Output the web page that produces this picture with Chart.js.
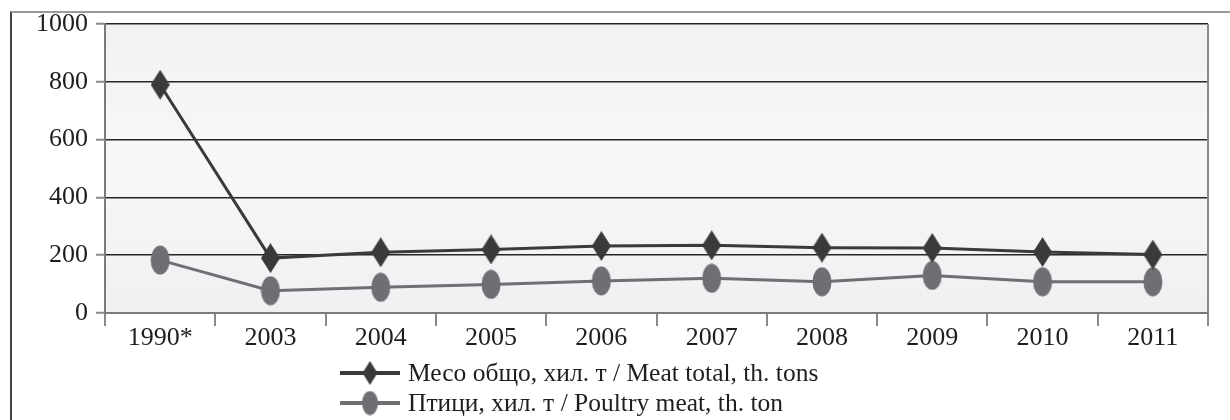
<!DOCTYPE html>
<html lang="bg">
<head>
<meta charset="UTF-8">
<title>Месо</title>
<script src="https://cdn.jsdelivr.net/npm/chart.js"></script>
<style>
  body { margin: 0; background: #fff; }
  .frame { position: absolute; left: 10px; top: 11px; width: 1240px; height: 420px;
           border-left: 2px solid #444; border-top: 2px solid #999; }
  .wrap { position: absolute; left: 0; top: 0; width: 1230px; height: 420px; }
</style>
</head>
<body>
<div class="frame"></div>
<div class="wrap"><canvas id="grafico"></canvas></div>

<script>
// данни
const godini = ['1990*', '2003', '2004', '2005', '2006', '2007', '2008', '2009', '2010', '2011'];
const meso = [790, 190, 210, 220, 232, 234, 226, 225, 211, 202];
const ptici = [183, 77, 89, 99, 111, 120, 108, 130, 108, 108];
const yTicks = [0, 200, 400, 600, 800, 1000];
const imena = ['Месо общо, хил. т / Meat total, th. tons', 'Птици, хил. т / Poultry meat, th. ton'];

const shrift = "'Liberation Serif', 'Times New Roman', serif";
const cvMeso = '#3a3a3a';
const cvPtici = '#6e6f73';

function romb(w, h, color) {
    const c = document.createElement('canvas');
    c.width = w; c.height = h;
    const g = c.getContext('2d');
    g.fillStyle = color;
    g.beginPath();
    g.moveTo(w / 2, 0); g.lineTo(w, h / 2); g.lineTo(w / 2, h); g.lineTo(0, h / 2);
    g.closePath(); g.fill();
    return c;
}
function elipsa(w, h, color) {
    const c = document.createElement('canvas');
    c.width = w; c.height = h;
    const g = c.getContext('2d');
    g.fillStyle = color;
    g.beginPath();
    g.ellipse(w / 2, h / 2, w / 2 - 0.5, h / 2 - 0.5, 0, 0, Math.PI * 2);
    g.fill();
    return c;
}

const markerMeso = romb(19, 30, cvMeso);
const markerPtici = elipsa(20, 30, cvPtici);

// фон с градиент и дясна рамка
const fonPlugin = {
    id: 'fon',
    beforeDraw(chart) {
        const { ctx, chartArea: a } = chart;
        const gr = ctx.createLinearGradient(0, a.top, 0, a.bottom);
        gr.addColorStop(0, '#f0f1f2');
        gr.addColorStop(0.45, '#f8f8f8');
        gr.addColorStop(1, '#eff0f2');
        ctx.save();
        ctx.fillStyle = gr;
        ctx.fillRect(a.left, a.top, a.right - a.left, a.bottom - a.top);
        ctx.restore();
    },
    afterDatasetsDraw(chart) {
        const { ctx, chartArea: a } = chart;
        ctx.save();
        ctx.strokeStyle = '#8a8a8a';
        ctx.lineWidth = 2;
        ctx.beginPath();
        ctx.moveTo(a.right, a.top);
        ctx.lineTo(a.right, a.bottom);
        ctx.stroke();
        ctx.restore();
    }
};

// легенда в два реда
const legendaPlugin = {
    id: 'legenda',
    afterDraw(chart) {
        const ctx = chart.ctx;
        const x0 = 340, redove = [373, 403];
        const markeri = [romb(15, 24, cvMeso), elipsa(17, 25, cvPtici)];
        const cvetove = [cvMeso, cvPtici];
        ctx.save();
        ctx.font = '25.5px ' + shrift;
        ctx.textBaseline = 'middle';
        ctx.fillStyle = '#1e1e1e';
        imena.forEach((ime, i) => {
            const y = redove[i];
            ctx.strokeStyle = cvetove[i];
            ctx.lineWidth = 4;
            ctx.beginPath();
            ctx.moveTo(x0, y);
            ctx.lineTo(x0 + 60, y);
            ctx.stroke();
            const m = markeri[i];
            ctx.drawImage(m, x0 + 30 - m.width / 2, y - m.height / 2);
            ctx.fillText(ime, x0 + 68, y + 1);
        });
        ctx.restore();
    }
};

new Chart(document.getElementById('grafico'), {
    type: 'line',
    data: {
        labels: godini,
        datasets: [{
            label: imena[0],
            data: meso,
            borderColor: cvMeso,
            borderWidth: 3,
            pointStyle: markerMeso,
            pointRadius: 10,
            pointBackgroundColor: cvMeso,
            tension: 0
        }, {
            label: imena[1],
            data: ptici,
            borderColor: cvPtici,
            borderWidth: 3,
            pointStyle: markerPtici,
            pointRadius: 10,
            pointBackgroundColor: cvPtici,
            tension: 0
        }]
    },
    options: {
        responsive: true,
        maintainAspectRatio: false,
        animation: false,
        events: [],
        layout: { padding: { left: 0, right: 22, top: 24, bottom: 60 } },
        plugins: {
            legend: { display: false },
            tooltip: { enabled: false }
        },
        scales: {
            x: {
                offset: true,
                grid: {
                    offset: true,
                    drawOnChartArea: false,
                    drawTicks: true,
                    tickLength: 13,
                    color: '#8a8a8a',
                    lineWidth: 2
                },
                border: { display: true, color: '#7a7a7a', width: 2 },
                ticks: {
                    color: '#1e1e1e',
                    font: { family: shrift, size: 26 },
                    padding: -3,
                    maxRotation: 0,
                    autoSkip: false
                },
                afterFit(scale) { scale.height = 47; }
            },
            y: {
                min: 0,
                max: 1000,
                afterBuildTicks(scale) { scale.ticks = yTicks.map(v => ({ value: v })); },
                grid: {
                    color: c => c.tick && c.tick.value === 0 ? '#7a7a7a' : '#262626',
                    lineWidth: 1.5,
                    tickColor: '#8a8a8a',
                    tickLength: 9,
                    tickWidth: 2
                },
                border: { display: true, color: '#7a7a7a', width: 2 },
                ticks: {
                    color: '#1e1e1e',
                    font: { family: shrift, size: 26 },
                    padding: 8,
                    callback: v => String(v)
                },
                afterFit(scale) { scale.width = 105; }
            }
        }
    },
    plugins: [fonPlugin, legendaPlugin]
});
</script>
</body>
</html>
